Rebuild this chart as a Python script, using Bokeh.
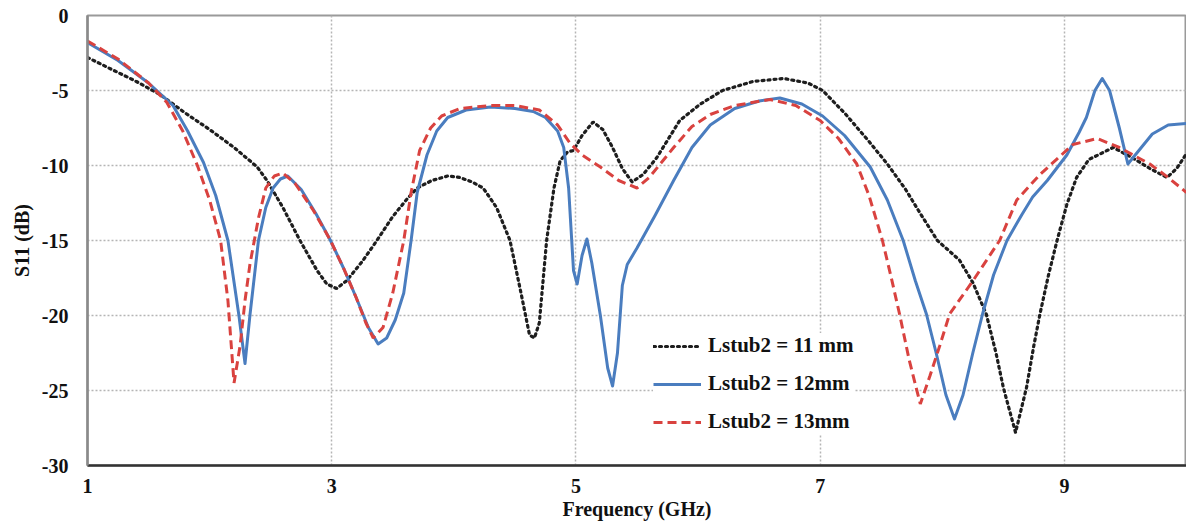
from bokeh.plotting import figure
from bokeh.models import Range1d, FixedTicker, ColumnDataSource, Legend
from bokeh.embed import file_html
from bokeh.resources import INLINE

# ---------------- data ----------------
freq_11 = [1.0, 1.2, 1.4, 1.6, 1.8, 2.0, 2.2, 2.39, 2.47, 2.6, 2.74, 2.88, 2.96, 3.04, 3.12,
           3.25, 3.37, 3.5, 3.62, 3.7, 3.82, 3.95, 4.05, 4.15, 4.24, 4.35, 4.46, 4.55, 4.62,
           4.66, 4.70, 4.76, 4.82, 4.87, 4.93, 4.98, 5.05, 5.14, 5.22, 5.3, 5.38, 5.46, 5.55,
           5.66, 5.85, 6.02, 6.2, 6.45, 6.7, 6.9, 7.02, 7.2, 7.4, 7.55, 7.7, 7.82, 7.96, 8.14,
           8.25, 8.36, 8.44, 8.5, 8.6, 8.69, 8.75, 8.8, 8.87, 8.94, 9.02, 9.1, 9.2, 9.4, 9.56,
           9.7, 9.84, 9.92, 10.0]
s11_11 = [-2.8, -3.6, -4.4, -5.3, -6.5, -7.6, -8.8, -10.1, -11.0, -12.8, -15.0, -17.0, -17.9,
          -18.2, -17.7, -16.4, -15.0, -13.4, -12.2, -11.5, -11.0, -10.7, -10.8, -11.1, -11.5,
          -12.8, -15.0, -18.5, -21.3, -21.5, -20.5, -15.0, -11.5, -9.7, -9.1, -9.0, -8.0, -7.1,
          -7.6, -8.8, -10.2, -11.1, -10.6, -9.5, -7.0, -5.9, -5.0, -4.4, -4.2, -4.5, -5.0, -6.5,
          -8.4, -9.9, -11.6, -13.2, -15.0, -16.3, -17.8, -19.9, -22.5, -24.8, -27.8, -24.8,
          -22.0, -19.9, -17.3, -15.0, -12.6, -10.8, -9.6, -8.8, -9.5, -10.2, -10.8, -10.2, -9.2]

freq_12 = [1.0, 1.25, 1.5, 1.7, 1.82, 1.95, 2.05, 2.15, 2.24, 2.29, 2.33, 2.40, 2.46, 2.52,
           2.58, 2.64, 2.75, 2.87, 2.99, 3.1, 3.2, 3.3, 3.38, 3.45, 3.52, 3.59, 3.65, 3.7, 3.78,
           3.86, 3.95, 4.1, 4.3, 4.5, 4.65, 4.75, 4.85, 4.9, 4.94, 4.98, 5.01, 5.05, 5.09, 5.13,
           5.2, 5.26, 5.30, 5.34, 5.38, 5.42, 5.5, 5.65, 5.8, 5.95, 6.1, 6.3, 6.5, 6.67, 6.85,
           7.02, 7.2, 7.41, 7.55, 7.68, 7.78, 7.87, 7.95, 8.03, 8.1, 8.17, 8.25, 8.33, 8.42,
           8.53, 8.65, 8.74, 8.86, 9.02, 9.12, 9.18, 9.25, 9.31, 9.37, 9.45, 9.52, 9.58, 9.72,
           9.85, 10.0]
s11_12 = [-1.8, -3.0, -4.5, -6.0, -7.7, -9.8, -12.0, -15.0, -20.0, -23.2, -20.0, -15.0, -12.8,
          -11.5, -10.9, -10.7, -11.6, -13.2, -15.0, -16.9, -18.8, -20.8, -21.9, -21.5, -20.3,
          -18.5, -15.0, -11.8, -9.3, -7.7, -6.8, -6.3, -6.1, -6.2, -6.4, -6.8, -7.7, -8.8,
          -11.5, -17.0, -17.9, -16.0, -14.9, -16.5, -20.0, -23.5, -24.7, -22.5, -18.0, -16.6,
          -15.5, -13.3, -11.0, -8.8, -7.3, -6.2, -5.7, -5.5, -5.9, -6.7, -8.0, -10.1, -12.3,
          -15.0, -17.7, -19.9, -22.5, -25.3, -26.9, -25.3, -22.5, -19.9, -17.3, -15.0, -13.3,
          -12.1, -11.0, -9.3, -7.8, -6.8, -5.0, -4.2, -5.0, -7.5, -9.9, -9.3, -7.9, -7.3, -7.2]

freq_13 = [1.0, 1.25, 1.5, 1.65, 1.78, 1.9, 2.0, 2.09, 2.15, 2.2, 2.25, 2.29, 2.33, 2.40, 2.46,
           2.53, 2.6, 2.7, 2.85, 2.99, 3.1, 3.2, 3.28, 3.34, 3.42, 3.5, 3.59, 3.65, 3.72, 3.81,
           3.9, 4.05, 4.3, 4.5, 4.7, 4.85, 4.95, 5.05, 5.2, 5.35, 5.5, 5.6, 5.7, 5.8, 5.95, 6.1,
           6.3, 6.59, 6.8, 7.0, 7.15, 7.3, 7.4, 7.51, 7.58, 7.65, 7.73, 7.82, 7.9, 7.98, 8.06,
           8.25, 8.47, 8.61, 8.8, 9.07, 9.27, 9.45, 9.7, 9.85, 10.0]
s11_13 = [-1.7, -2.9, -4.5, -5.8, -7.7, -10.0, -12.3, -15.0, -19.0, -24.5, -22.0, -19.0, -16.6,
          -13.5, -11.5, -10.7, -10.5, -11.2, -13.0, -15.0, -16.9, -18.8, -20.5, -21.5, -20.8,
          -18.5, -15.0, -11.8, -9.0, -7.5, -6.7, -6.2, -6.0, -6.0, -6.3, -7.3, -8.5, -9.3,
          -10.1, -11.0, -11.5, -10.8, -9.8, -8.8, -7.4, -6.6, -6.0, -5.6, -6.0, -7.0, -8.2,
          -9.9, -12.0, -15.0, -17.4, -19.9, -23.0, -25.9, -24.0, -22.0, -19.9, -17.7, -15.0,
          -12.3, -10.6, -8.6, -8.2, -8.8, -9.9, -10.8, -11.8]

labels = ["Lstub2 = 11 mm", "Lstub2 = 12mm", "Lstub2 = 13mm"]
x_ticks = [1, 3, 5, 7, 9]
y_ticks = [0, -5, -10, -15, -20, -25, -30]

FONT = "Liberation Serif"

p = figure(width=1186, height=531, output_backend="svg", toolbar_location=None,
           x_range=Range1d(1, 10), y_range=Range1d(-30, 0),
           min_border_left=87, min_border_right=0, min_border_top=15, min_border_bottom=66)
p.background_fill_color = "white"
p.border_fill_color = "white"
p.outline_line_color = "#9a9a9a"
p.outline_line_width = 2

src11 = ColumnDataSource(dict(x=freq_11, y=s11_11))
src12 = ColumnDataSource(dict(x=freq_12, y=s11_12))
src13 = ColumnDataSource(dict(x=freq_13, y=s11_13))

r11 = p.line("x", "y", source=src11, line_color="#1e1e1e", line_width=3.2,
             line_dash="2 4", line_cap="round")
r12 = p.line("x", "y", source=src12, line_color="#4a7dbf", line_width=3,
             line_join="round")
r13 = p.line("x", "y", source=src13, line_color="#d9423f", line_width=3,
             line_dash="9 5")

legend = Legend(items=[(labels[0], [r11]), (labels[1], [r12]), (labels[2], [r13])],
                location=(566, 31))
legend.background_fill_color = "white"
legend.background_fill_alpha = 1.0
legend.border_line_color = None
legend.glyph_width = 48
legend.glyph_height = 20
legend.label_height = 20
legend.spacing = 13
legend.padding = 10
legend.margin = 0
legend.label_standoff = 7
legend.label_text_font = FONT
legend.label_text_font_style = "bold"
legend.label_text_font_size = "21px"
legend.label_text_color = "#111111"
p.add_layout(legend, "center")

# axes
p.xaxis.ticker = FixedTicker(ticks=x_ticks)
p.yaxis.ticker = FixedTicker(ticks=y_ticks)
p.xaxis.major_label_overrides = {t: str(t) for t in x_ticks}
p.yaxis.major_label_overrides = {t: str(t) for t in y_ticks}
for ax in (p.xaxis, p.yaxis):
    ax.major_tick_line_color = None
    ax.minor_tick_line_color = None
    ax.major_tick_in = 0
    ax.major_tick_out = 0
    ax.major_label_text_font = FONT
    ax.major_label_text_font_style = "bold"
    ax.major_label_text_font_size = "20px"
    ax.major_label_text_color = "#111111"
    ax.axis_label_text_font = FONT
    ax.axis_label_text_font_style = "bold"
    ax.axis_label_text_font_size = "20px"
    ax.axis_label_text_color = "#111111"

p.xaxis.axis_label = "Frequency (GHz)"
p.yaxis.axis_label = "S11 (dB)"
p.xaxis.axis_line_color = "#333333"
p.xaxis.axis_line_width = 2.5
p.yaxis.axis_line_color = "#8a8a8a"
p.yaxis.axis_line_width = 2.5
p.xaxis.major_label_standoff = 13
p.yaxis.major_label_standoff = 19
p.xaxis.axis_label_standoff = 2
p.yaxis.axis_label_standoff = 6

# grid
p.xgrid.ticker = FixedTicker(ticks=[3, 5, 7, 9])
p.ygrid.ticker = FixedTicker(ticks=[-5, -10, -15, -20, -25])
for g in (p.xgrid, p.ygrid):
    g.grid_line_color = "#b5b5b5"
    g.grid_line_width = 1.5
    g.grid_line_dash = "2 2"

open("out.html", "w").write(file_html(p, INLINE))
